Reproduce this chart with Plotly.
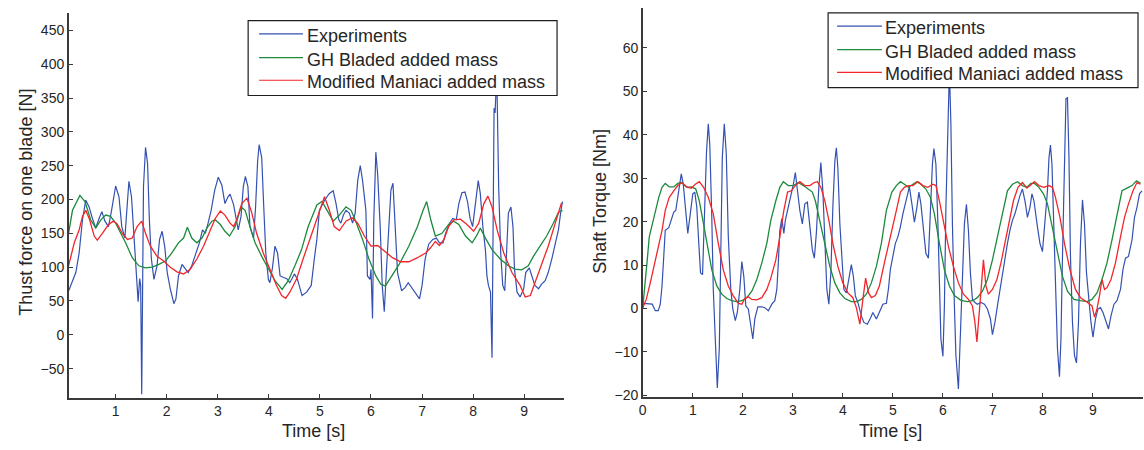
import plotly.graph_objects as go

# ---------------- Thrust force on one blade [N] ----------------
thrust_t_exp = [0.08, 0.22, 0.285, 0.35, 0.415, 0.48, 0.545, 0.61, 0.675, 0.73, 0.79, 0.86, 0.92, 1.0,
                1.065, 1.12, 1.18, 1.23, 1.26, 1.31, 1.36, 1.40, 1.44, 1.47, 1.49, 1.51, 1.53, 1.545,
                1.585, 1.625, 1.66, 1.70, 1.75, 1.81, 1.86, 1.91, 1.96, 2.01, 2.07, 2.14, 2.18, 2.23,
                2.30, 2.35, 2.42, 2.49, 2.57, 2.64, 2.70, 2.755, 2.81, 2.87, 2.94, 3.01, 3.08, 3.14,
                3.20, 3.24, 3.31, 3.35, 3.40, 3.455, 3.50, 3.54, 3.59, 3.63, 3.70, 3.74, 3.78, 3.81,
                3.86, 3.90, 3.94, 3.99, 4.02, 4.07, 4.12, 4.17, 4.22, 4.28, 4.35, 4.41, 4.50, 4.56,
                4.61, 4.65, 4.74, 4.83, 4.89, 4.94, 4.99, 5.09, 5.185, 5.26, 5.315, 5.37, 5.41, 5.46,
                5.51, 5.575, 5.64, 5.69, 5.74, 5.79, 5.835, 5.87, 5.90, 5.93, 5.98, 6.00, 6.03, 6.055,
                6.095, 6.13, 6.18, 6.22, 6.26, 6.30, 6.35, 6.39, 6.43, 6.47, 6.52, 6.60, 6.67, 6.73,
                6.81, 6.89, 6.95, 7.00, 7.06, 7.13, 7.21, 7.28, 7.34, 7.41, 7.46, 7.54, 7.60, 7.67,
                7.72, 7.78, 7.84, 7.89, 7.94, 7.99, 8.04, 8.10, 8.14, 8.19, 8.24, 8.27, 8.30, 8.34,
                8.37, 8.39, 8.41, 8.43, 8.45, 8.47, 8.50, 8.54, 8.58, 8.62, 8.655, 8.69, 8.74, 8.78,
                8.81, 8.86, 8.92, 8.99, 9.03, 9.10, 9.15, 9.21, 9.28, 9.34, 9.41, 9.47, 9.54, 9.60,
                9.67, 9.72, 9.75]
thrust_exp = [65, 92, 121, 170, 199, 189, 172, 158, 172, 182, 168, 160, 184, 220,
              204, 160, 143, 194, 227, 204, 150, 102, 49, 83, 73, -88, 73, 219,
              277, 253, 170, 112, 82, 102, 141, 153, 131, 92, 68, 46, 53, 87,
              104, 99, 92, 102, 121, 136, 155, 150, 165, 184, 214, 233, 221, 194,
              204, 208, 192, 175, 155, 175, 219, 234, 219, 160, 143, 189, 257, 281,
              262, 189, 121, 82, 77, 99, 131, 121, 87, 85, 83, 77, 90, 82,
              68, 58, 63, 73, 112, 141, 184, 199, 209, 213, 194, 170, 165, 177,
              184, 180, 165, 180, 228, 250, 228, 199, 184, 87, 82, 97, 24, 170,
              270, 238, 160, 73, 34, 92, 160, 214, 224, 170, 92, 65, 70, 77,
              68, 61, 53, 73, 112, 134, 141, 143, 136, 136, 150, 165, 172, 170,
              194, 210, 211, 197, 172, 160, 194, 228, 209, 160, 126, 87, 73, 63,
              -34, 170, 335, 328, 365, 355, 219, 121, 73, 65, 121, 180, 189, 160,
              97, 63, 56, 68, 92, 99, 87, 73, 68, 75, 80, 92, 112, 131,
              155, 184, 197]

thrust_t_gh = [0.078, 0.155, 0.30, 0.40, 0.51, 0.61, 0.71, 0.805, 0.90, 1.0, 1.10, 1.195, 1.325,
               1.455, 1.585, 1.715, 1.845, 1.975, 2.10, 2.23, 2.33, 2.405, 2.49, 2.59, 2.69, 2.79,
               2.885, 2.95, 3.05, 3.14, 3.23, 3.34, 3.455, 3.535, 3.63, 3.73, 3.86, 3.99, 4.12,
               4.26, 4.38, 4.51, 4.64, 4.77, 4.94, 5.04, 5.15, 5.26, 5.38, 5.51, 5.61, 5.70, 5.835,
               5.96, 6.095, 6.19, 6.28, 6.39, 6.55, 6.74, 6.91, 7.02, 7.09, 7.17, 7.26, 7.39, 7.52,
               7.62, 7.72, 7.85, 7.98, 8.08, 8.14, 8.24, 8.37, 8.53, 8.69, 8.82, 8.95, 9.08, 9.18,
               9.31, 9.44, 9.57, 9.67, 9.75]
thrust_gh = [150, 184, 206, 197, 170, 158, 170, 177, 175, 165, 150, 136, 114,
             102, 99, 100, 104, 109, 121, 136, 143, 159, 143, 136, 143, 158,
             168, 170, 163, 153, 146, 160, 189, 184, 160, 136, 116, 97, 80,
             67, 80, 102, 126, 160, 192, 197, 182, 168, 177, 189, 184, 168, 141,
             112, 87, 75, 72, 85, 104, 131, 160, 184, 197, 170, 146, 150, 163,
             168, 163, 146, 136, 148, 158, 143, 126, 112, 102, 97, 96, 102, 116,
             131, 146, 165, 181, 184]

thrust_t_mm = [0.078, 0.19, 0.285, 0.35, 0.415, 0.49, 0.58, 0.64, 0.74, 0.86, 0.955, 1.03, 1.13,
               1.23, 1.325, 1.42, 1.51, 1.585, 1.68, 1.81, 1.94, 2.07, 2.20, 2.33, 2.46, 2.59,
               2.72, 2.85, 2.95, 3.05, 3.14, 3.24, 3.31, 3.37, 3.47, 3.57, 3.66, 3.76, 3.89, 4.02,
               4.15, 4.25, 4.33, 4.41, 4.54, 4.67, 4.80, 4.94, 5.09, 5.185, 5.28, 5.38, 5.51, 5.63,
               5.74, 5.87, 6.00, 6.13, 6.26, 6.42, 6.58, 6.74, 6.91, 7.07, 7.17, 7.26, 7.34, 7.43,
               7.52, 7.62, 7.75, 7.88, 8.01, 8.11, 8.21, 8.29, 8.37, 8.47, 8.60, 8.76, 8.92, 9.02,
               9.12, 9.21, 9.34, 9.47, 9.60, 9.73]
thrust_mm = [102, 136, 155, 175, 184, 170, 146, 140, 150, 163, 168, 164, 150,
             141, 143, 160, 168, 150, 131, 116, 109, 100, 93, 90, 97, 112,
             131, 155, 172, 183, 177, 165, 160, 170, 194, 202, 182, 150, 121, 97,
             73, 58, 54, 63, 82, 112, 141, 170, 204, 184, 160, 154, 168, 173,
             165, 146, 131, 132, 124, 114, 108, 108, 114, 121, 129, 138, 132, 141,
             160, 170, 171, 163, 153, 165, 194, 205, 189, 155, 121, 92, 73, 56,
             58, 78, 104, 131, 165, 195]

# ---------------- Shaft Torque [Nm] ----------------
torque_t_exp = [0.0, 0.02, 0.19, 0.25, 0.31, 0.35, 0.385, 0.42, 0.45, 0.52, 0.57, 0.62, 0.66, 0.70,
                0.74, 0.77, 0.81, 0.85, 0.90, 0.95, 1.0, 1.04, 1.08, 1.12, 1.155, 1.195, 1.235, 1.275,
                1.31, 1.34, 1.38, 1.41, 1.45, 1.49, 1.53, 1.56, 1.59, 1.63, 1.67, 1.71, 1.76, 1.80,
                1.85, 1.89, 1.94, 1.98, 2.02, 2.06, 2.11, 2.16, 2.20, 2.24, 2.30, 2.38, 2.44, 2.51,
                2.58, 2.64, 2.68, 2.71, 2.74, 2.78, 2.82, 2.85, 2.91, 2.96, 3.01, 3.05, 3.09, 3.14,
                3.19, 3.24, 3.29, 3.34, 3.39, 3.43, 3.47, 3.52, 3.56, 3.60, 3.64, 3.68, 3.72, 3.76,
                3.80, 3.84, 3.87, 3.90, 3.94, 3.98, 4.02, 4.07, 4.12, 4.17, 4.21, 4.25, 4.30, 4.37,
                4.42, 4.49, 4.56, 4.60, 4.67, 4.73, 4.80, 4.87, 4.91, 4.95, 5.0, 5.05, 5.10, 5.15,
                5.20, 5.25, 5.29, 5.33, 5.38, 5.43, 5.48, 5.52, 5.56, 5.62, 5.66, 5.71, 5.75, 5.79,
                5.82, 5.86, 5.90, 5.93, 5.96, 6.0, 6.03, 6.06, 6.10, 6.13, 6.16, 6.19, 6.23, 6.26,
                6.31, 6.35, 6.39, 6.43, 6.47, 6.51, 6.55, 6.59, 6.64, 6.69, 6.76, 6.83, 6.89, 6.95,
                6.99, 7.04, 7.09, 7.14, 7.19, 7.24, 7.29, 7.34, 7.39, 7.44, 7.49, 7.54, 7.59, 7.64,
                7.69, 7.74, 7.78, 7.82, 7.89, 7.94, 7.99, 8.03, 8.09, 8.12, 8.15, 8.18, 8.22, 8.26,
                8.29, 8.33, 8.36, 8.39, 8.43, 8.46, 8.49, 8.52, 8.55, 8.59, 8.63, 8.67, 8.71, 8.75,
                8.79, 8.83, 8.87, 8.92, 8.96, 9.00, 9.05, 9.10, 9.15, 9.20, 9.26, 9.31, 9.36, 9.42,
                9.48, 9.55, 9.60, 9.65, 9.71, 9.78, 9.83, 9.88, 9.93, 9.98]
torque_exp = [0.2, 1.2, 1.0, -0.5, -0.5, 1.0, 5.2, 12, 18, 18.6, 20.3, 22.2, 22.6, 25.6,
              29.4, 31, 28.6, 22.6, 17.3, 21.8, 26.4, 26.8, 23.3, 15, 8.2, 7.8, 23.3, 36.2,
              42.5, 37.7, 21, 4.4, -7, -18.3, -9.2, 15, 34.7, 42.5, 35.5, 16.5, 4.4, -0.1,
              -2.8, -0.9, 4.4, 10.8, 7.4, 0.6, -0.1, -3.9, -7, -2.4, 0.4, 0.4, 0.2, -0.5,
              1.0, 1.8, 4.4, 10.5, 18, 20.7, 17.3, 20.3, 23.3, 25.6, 28.6, 31.3, 27.5, 22.6,
              19.5, 24.1, 24.5, 19.5, 13.5, 11.6, 17.3, 27.9, 33.6, 27.1, 15, 4.4, 1.0, 8.2,
              23.3, 33.9, 37, 32.4, 19.5, 10.5, 4.4, 3.6, 7.4, 10.1, 7.4, 2.9, 1.4, -1.7,
              -3.2, -3.6, -2.0, -0.9, -2.4, -0.9, 1.0, 1.2, 4.4, 9.0, 12, 15, 16.5, 18.8,
              21.8, 24.1, 25.6, 28, 24.1, 19.9, 23.3, 26.8, 24.1, 18, 12.7, 11.6, 23.3, 33.2,
              36.8, 33.2, 19.5, 4.4, -7, -11, 0.6, 23.3, 42.3, 55, 42.3, 19.5, 0.6, -10.8,
              -18.5, -7, 8.2, 19.5, 24, 18, 8.2, 2.1, 1.4, 1.0, 1.4, 1.0, -0.1, -2.4,
              -6, -3.2, 0.6, 4.4, 8.2, 12, 15, 18, 20.3, 21.8, 24.1, 26, 27.5, 24.8,
              21, 23.3, 26.4, 24.8, 18.8, 15, 13.1, 18, 27.1, 34.7, 37.6, 33.2, 19.5, 4.4,
              -9.2, -15.7, -7, 12, 34.7, 48.3, 48.5, 34.7, 12, -3.2, -10.8, -12.5, -3.2, 15,
              25, 19.5, 8.2, 1.4, -3.2, -6.6, -2.4, -0.1, 0.2, -0.9, -3.2, -4.7, -1.7, 1.0,
              1.8, 4.4, 9.0, 11.6, 12, 15.8, 21, 23.3, 26.4, 27.1]

torque_t_gh = [0.0, 0.04, 0.09, 0.13, 0.19, 0.25, 0.32, 0.385, 0.45, 0.53, 0.62, 0.70, 0.78, 0.88,
               0.98, 1.06, 1.13, 1.215, 1.30, 1.38, 1.48, 1.58, 1.68, 1.78, 1.88, 1.98, 2.08, 2.18,
               2.28, 2.38, 2.48, 2.56, 2.66, 2.74, 2.81, 2.91, 3.01, 3.11, 3.21, 3.31, 3.39, 3.45,
               3.54, 3.64, 3.74, 3.84, 3.94, 4.04, 4.17, 4.27, 4.37, 4.47, 4.57, 4.67, 4.77, 4.87,
               4.98, 5.07, 5.15, 5.23, 5.31, 5.40, 5.48, 5.56, 5.66, 5.75, 5.83, 5.93, 6.03, 6.13,
               6.23, 6.36, 6.49, 6.59, 6.69, 6.79, 6.89, 6.99, 7.09, 7.19, 7.29, 7.39, 7.49, 7.59,
               7.68, 7.76, 7.83, 7.92, 8.01, 8.09, 8.19, 8.29, 8.39, 8.49, 8.62, 8.75, 8.88, 8.98,
               9.08, 9.18, 9.28, 9.38, 9.48, 9.58, 9.68, 9.78, 9.87, 9.95]
torque_gh = [0.2, 4.4, 11.2, 16.5, 19.5, 22.6, 25.6, 27.9, 28.8, 28.0, 28.0, 28.8, 29.0, 27.9,
             28.0, 27.5, 24.8, 19.5, 13.5, 8.9, 5.2, 3.3, 2.3, 1.8, 1.6, 1.8, 2.5, 4.0,
             6.7, 10.5, 15, 20.3, 24.8, 27.9, 29.2, 28.3, 28.3, 29.0, 28.3, 27.5, 26.8, 24.8,
             20.3, 15, 9.7, 5.9, 3.6, 2.3, 1.6, 1.6, 2.1, 3.3, 5.9, 9.7, 15, 22.6,
             26.8, 28.3, 29.2, 28.6, 27.9, 28.6, 29.2, 28.6, 27.5, 25.6, 21.8, 15, 8.9, 5.2,
             3.0, 1.9, 1.6, 1.8, 2.5, 4.0, 6.7, 11.2, 16.5, 22.6, 27.1, 28.6, 29.2, 28.3,
             27.9, 28.8, 28.8, 27.9, 26.4, 24.1, 18.8, 12.7, 7.4, 4.0, 2.1, 1.8, 1.6, 2.1,
             3.6, 6.7, 10.5, 15.8, 21.8, 27.1, 27.7, 28.3, 29.4, 28.8]

torque_t_mm = [0.0, 0.07, 0.15, 0.22, 0.305, 0.385, 0.45, 0.53, 0.62, 0.70, 0.78, 0.88, 0.97, 1.05,
               1.13, 1.215, 1.31, 1.41, 1.51, 1.61, 1.71, 1.81, 1.91, 1.98, 2.04, 2.11, 2.18, 2.28,
               2.38, 2.48, 2.56, 2.66, 2.74, 2.82, 2.895, 2.97, 3.05, 3.14, 3.24, 3.34, 3.43, 3.49,
               3.56, 3.64, 3.72, 3.80, 3.90, 4.0, 4.10, 4.20, 4.27, 4.34, 4.40, 4.455, 4.515, 4.57,
               4.65, 4.73, 4.83, 4.91, 4.98, 5.07, 5.15, 5.23, 5.31, 5.40, 5.50, 5.60, 5.70, 5.80,
               5.86, 5.93, 6.02, 6.11, 6.21, 6.31, 6.41, 6.51, 6.59, 6.64, 6.68, 6.72, 6.76, 6.81,
               6.86, 6.91, 6.99, 7.08, 7.16, 7.24, 7.32, 7.41, 7.50, 7.59, 7.68, 7.76, 7.83, 7.92,
               8.02, 8.12, 8.19, 8.25, 8.34, 8.43, 8.54, 8.65, 8.75, 8.88, 8.98, 9.03, 9.08, 9.13,
               9.18, 9.23, 9.28, 9.36, 9.45, 9.55, 9.63, 9.71, 9.80, 9.88, 9.95]
torque_mm = [0.2, 2.1, 5.9, 9.7, 13.5, 18, 22.6, 25.6, 27.1, 28.3, 29.0, 28.0, 27.7, 28.6,
             29.2, 27.9, 25.6, 21.8, 15, 8.9, 5.2, 2.9, 1.2, 1.0, 2.3, 2.7, 2.1, 2.0,
             2.5, 4.4, 7.0, 11.2, 16.5, 22.6, 26.8, 27.1, 28.3, 29.2, 28.3, 28.3, 29.0, 29.2,
             27.9, 24.8, 20.3, 15, 9.7, 5.9, 3.6, 2.5, 0.2, -3.6, 2.1, 7.0, 3.6, 2.5,
             3.0, 5.2, 10.5, 14.3, 18, 22.6, 26.8, 27.9, 28.3, 28.3, 29.2, 28.3, 27.9, 28.6,
             28.3, 24.8, 19.5, 14.3, 9.7, 5.9, 3.3, 2.1, 0.6, -3.2, -7.7, -1.7, 5.9, 11.2,
             5.2, 3.3, 4.4, 6.7, 10.5, 15, 20.3, 24.8, 27.9, 29.0, 27.7, 28.6, 29.2, 28.3,
             27.9, 28.3, 27.9, 25.6, 21, 15, 8.9, 4.4, 2.5, 1.5, 0.6, -2.0, -0.1, 2.9,
             6.7, 4.4, 4.8, 6.7, 10.5, 16.5, 21, 24.1, 27.1, 29.0, 28.6]

series_names = ["Experiments", "GH Bladed added mass", "Modified Maniaci added mass"]
series_colors = ["#3451b2", "#1c8a3c", "#f2262a"]
series_widths = [1.2, 1.3, 1.3]

thrust_ticks = list(range(-50, 451, 50))
torque_ticks = list(range(-20, 61, 10))

FONT = "Liberation Sans, Arial, Helvetica, sans-serif"
INK = "#262626"
W, H = 1144, 450

fig = go.Figure()

thrust_sets = [(thrust_t_exp, thrust_exp), (thrust_t_gh, thrust_gh), (thrust_t_mm, thrust_mm)]
torque_sets = [(torque_t_exp, torque_exp), (torque_t_gh, torque_gh), (torque_t_mm, torque_mm)]

for (tx, ty), name, col, lw in zip(thrust_sets, series_names, series_colors, series_widths):
    fig.add_trace(go.Scatter(x=tx, y=ty, mode="lines", name=name, line=dict(color=col, width=lw),
                             xaxis="x", yaxis="y", showlegend=False))
for (tx, ty), name, col, lw in zip(torque_sets, series_names, series_colors, series_widths):
    fig.add_trace(go.Scatter(x=tx, y=ty, mode="lines", name=name, line=dict(color=col, width=lw),
                             xaxis="x2", yaxis="y2", showlegend=False))

axis_common = dict(showline=True, linecolor="#3a3a3a", linewidth=1.5, mirror=False,
                   showgrid=False, zeroline=False, ticks="inside", ticklen=4, tickwidth=1,
                   tickcolor="#3a3a3a", tickfont=dict(family=FONT, size=14, color=INK))

fig.update_layout(
    width=W, height=H,
    margin=dict(l=0, r=0, t=0, b=0),
    paper_bgcolor="white", plot_bgcolor="white",
    showlegend=False,
    xaxis=dict(domain=[65 / W, 562 / W], range=[0.082, 9.78], tickvals=list(range(1, 10)),
               anchor="y", **axis_common),
    yaxis=dict(domain=[1 - 404 / H, 1 - 13 / H], range=[-93, 476], tickvals=thrust_ticks,
               anchor="x", **axis_common),
    xaxis2=dict(domain=[641 / W, 1143 / W], range=[0, 10], tickvals=list(range(0, 10)),
                anchor="y2", **axis_common),
    yaxis2=dict(domain=[1 - 403 / H, 1 - 8 / H], range=[-20.3, 69.2], tickvals=torque_ticks,
                anchor="x2", **axis_common),
)

# Legend boxes: frame, sample lines and labels placed in pixel coordinates
legend_boxes = [
    dict(x0=245, x1=555, y0=21, y1=97, line_x=(256, 300), text_x=302, rows=[34.5, 58.5, 81.5]),
    dict(x0=827, x1=1138, y0=13, y1=89, line_x=(836, 881), text_x=882, rows=[26.5, 50.5, 73.5]),
]
for box in legend_boxes:
    fig.add_shape(type="rect", xref="paper", yref="paper", layer="above",
                  x0=box["x0"] / W, x1=box["x1"] / W, y0=1 - box["y1"] / H, y1=1 - box["y0"] / H,
                  fillcolor="white", line=dict(color="#1e1e1e", width=1.2))
    for row, name, col in zip(box["rows"], series_names, series_colors):
        fig.add_shape(type="line", xref="paper", yref="paper", layer="above",
                      x0=box["line_x"][0] / W, x1=box["line_x"][1] / W,
                      y0=1 - row / H, y1=1 - row / H, line=dict(color=col, width=1.2))
        fig.add_annotation(xref="paper", yref="paper", showarrow=False, text=name,
                           x=box["text_x"] / W, y=1 - (row + 2) / H,
                           xanchor="left", yanchor="middle",
                           font=dict(family=FONT, size=18, color=INK))

title_font = dict(family=FONT, size=18, color=INK)
annotations = [
    dict(text="Time [s]", x=311 / W, y=1 - 438 / H),
    dict(text="Time [s]", x=890 / W, y=1 - 438 / H),
    dict(text="Thust force on one blade [N]", x=22 / W, y=1 - 205 / H, textangle=-90),
    dict(text="Shaft Torque [Nm]", x=598 / W, y=1 - 204 / H, textangle=-90),
]
for a in annotations:
    fig.add_annotation(xref="paper", yref="paper", showarrow=False, font=title_font,
                       xanchor="center", yanchor="middle", **a)

fig.write_html("out.html")
